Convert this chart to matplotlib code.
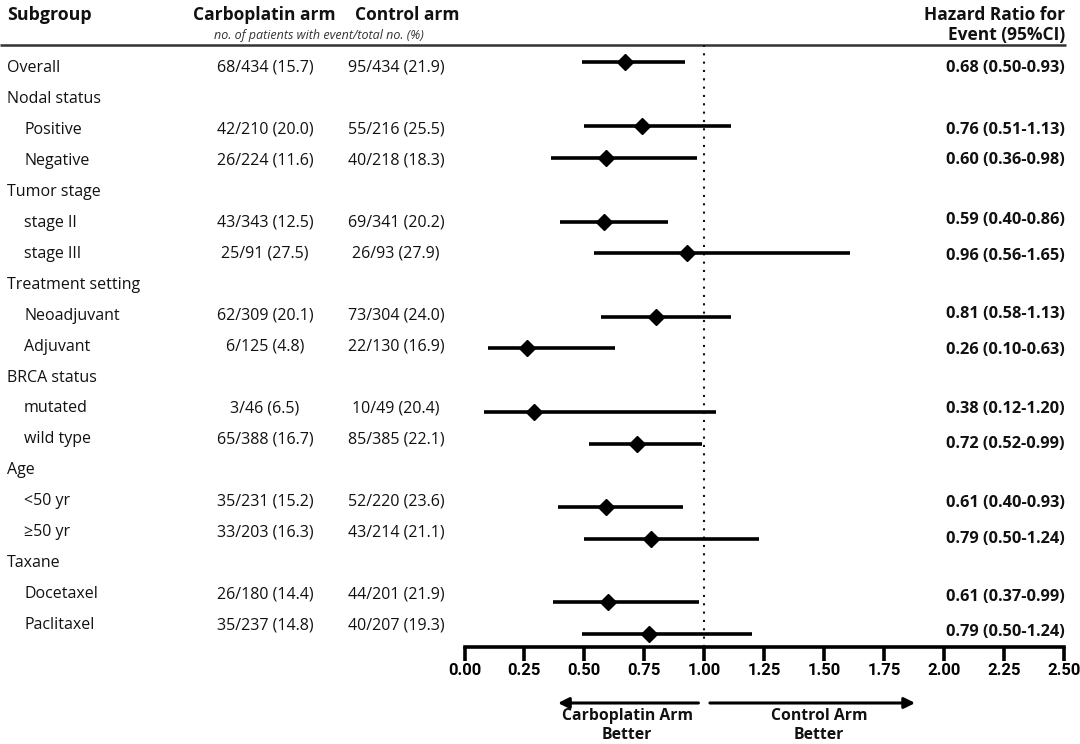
import matplotlib
matplotlib.use('Agg')
import matplotlib.pyplot as plt

plt.rcParams['font.family'] = ['Open Sans', 'DejaVu Sans']

# table data
subgroups = ["Overall", "Nodal status", "Positive", "Negative", "Tumor stage",
             "stage II", "stage III", "Treatment setting", "Neoadjuvant",
             "Adjuvant", "BRCA status", "mutated", "wild type", "Age",
             "<50 yr", "\u226550 yr", "Taxane", "Docetaxel", "Paclitaxel"]
indented = [0, 0, 1, 1, 0, 1, 1, 0, 1, 1, 0, 1, 1, 0, 1, 1, 0, 1, 1]
carbo_arm = ["68/434 (15.7)", "", "42/210 (20.0)", "26/224 (11.6)", "",
             "43/343 (12.5)", "25/91 (27.5)", "", "62/309 (20.1)", "6/125 (4.8)", "",
             "3/46 (6.5)", "65/388 (16.7)", "", "35/231 (15.2)", "33/203 (16.3)", "",
             "26/180 (14.4)", "35/237 (14.8)"]
control_arm = ["95/434 (21.9)", "", "55/216 (25.5)", "40/218 (18.3)", "",
               "69/341 (20.2)", "26/93 (27.9)", "", "73/304 (24.0)", "22/130 (16.9)", "",
               "10/49 (20.4)", "85/385 (22.1)", "", "52/220 (23.6)", "43/214 (21.1)", "",
               "44/201 (21.9)", "40/207 (19.3)"]

# hazard ratios as drawn (one per data row)
hr = [0.67, 0.74, 0.59, 0.58, 0.93, 0.80, 0.26, 0.29, 0.72, 0.59, 0.78, 0.60, 0.77]
ci_low = [0.49, 0.50, 0.36, 0.40, 0.54, 0.57, 0.10, 0.08, 0.52, 0.39, 0.50, 0.37, 0.49]
ci_high = [0.92, 1.11, 0.97, 0.85, 1.61, 1.11, 0.63, 1.05, 0.99, 0.91, 1.23, 0.98, 1.20]
hr_text = ["0.68 (0.50-0.93)", "0.76 (0.51-1.13)", "0.60 (0.36-0.98)",
           "0.59 (0.40-0.86)", "0.96 (0.56-1.65)", "0.81 (0.58-1.13)",
           "0.26 (0.10-0.63)", "0.38 (0.12-1.20)", "0.72 (0.52-0.99)",
           "0.61 (0.40-0.93)", "0.79 (0.50-1.24)", "0.61 (0.37-0.99)",
           "0.79 (0.50-1.24)"]
xticks = [0.0, 0.25, 0.5, 0.75, 1.0, 1.25, 1.5, 1.75, 2.0, 2.25, 2.5]

# layout (pixels from top)
W, H = 1080, 744
row_y = [68 + i * 30.95 for i in range(len(subgroups))]
mark_y = [62.3, 126.3, 157.7, 221.7, 253, 316.7, 348.3, 412, 443.7, 507, 539, 602.3, 634.3]
text_y = [68, 129.5, 160.5, 220.5, 256, 314.5, 350.5, 409, 444.5, 503, 539, 597, 632]
ax_left, ax_right, ax_top, ax_bottom = 464.5, 1063.7, 45, 646.7

ink = '#111111'
fig = plt.figure(figsize=(W / 100, H / 100), dpi=100)

# overlay for the table text, in pixel units
bg = fig.add_axes([0, 0, 1, 1])
bg.set_xlim(0, W)
bg.set_ylim(H, 0)
bg.axis('off')

bg.text(7, 15, "Subgroup", fontsize=12.8, fontweight='bold', color=ink, va='center', ha='left')
bg.text(264, 15, "Carboplatin arm", fontsize=12.5, fontweight='bold', color=ink, va='center', ha='center')
bg.text(407, 15, "Control arm", fontsize=12.5, fontweight='bold', color=ink, va='center', ha='center')
bg.text(319, 35, "no. of patients with event/total no. (%)", fontsize=9, style='italic',
        color='#333333', va='center', ha='center')
bg.text(1065, 15, "Hazard Ratio for", fontsize=12.5, fontweight='bold', color=ink, va='center', ha='right')
bg.text(1065, 35, "Event (95%CI)", fontsize=12.5, fontweight='bold', color=ink, va='center', ha='right')
bg.plot([0, 1066], [45, 45], color='#333333', lw=1.8, solid_capstyle='butt')

for i, name in enumerate(subgroups):
    y = row_y[i]
    bg.text(24 if indented[i] else 7, y, name, fontsize=11.5, color=ink, va='center', ha='left')
    if carbo_arm[i]:
        bg.text(265, y, carbo_arm[i], fontsize=11.5, color=ink, va='center', ha='center')
        bg.text(396, y, control_arm[i], fontsize=11.5, color=ink, va='center', ha='center')

for y, s in zip(text_y, hr_text):
    bg.text(1065, y, s, fontsize=11.8, fontweight='bold', color=ink, va='center', ha='right')

# forest plot axes
ax = fig.add_axes([ax_left / W, 1 - ax_bottom / H, (ax_right - ax_left) / W, (ax_bottom - ax_top) / H])
ax.patch.set_alpha(0)
ax.set_xlim(0, 2.5)
ax.set_ylim(ax_bottom, ax_top)
for side in ['top', 'right', 'left']:
    ax.spines[side].set_visible(False)
ax.spines['bottom'].set_linewidth(2.6)
ax.spines['bottom'].set_capstyle('projecting')
ax.set_yticks([])
ax.set_xticks(xticks)
ax.set_xticklabels([f"{t:.2f}" for t in xticks])
ax.tick_params(axis='x', direction='out', length=10, width=2.6, pad=2, labelsize=12)
for lab in ax.get_xticklabels():
    lab.set_fontweight('bold')
    lab.set_family('Roboto')

ax.axvline(1.0, color=ink, lw=1.5, linestyle=(0, (1, 3)), zorder=1)
ax.hlines(mark_y, ci_low, ci_high, color='black', lw=2.6, zorder=2)
ax.plot(hr, mark_y, linestyle='none', marker='D', markersize=8, color='black', zorder=3)

# direction arrows
trans = ax.get_xaxis_transform()
ya = -(703 - ax_bottom) / (ax_bottom - ax_top)
ax.annotate("", xy=(0.39, ya), xytext=(0.976, ya), xycoords=trans, textcoords=trans,
            arrowprops=dict(arrowstyle='-|>', lw=2.2, color='black', mutation_scale=16,
                            shrinkA=0, shrinkB=0), annotation_clip=False)
ax.annotate("", xy=(1.88, ya), xytext=(1.024, ya), xycoords=trans, textcoords=trans,
            arrowprops=dict(arrowstyle='-|>', lw=2.2, color='black', mutation_scale=16,
                            shrinkA=0, shrinkB=0), annotation_clip=False)

bg.text(627, 725.5, "Carboplatin Arm\nBetter", fontsize=11.3, fontweight='bold', color=ink,
        va='center', ha='center', linespacing=1.3)
bg.text(819, 725.5, "Control Arm\nBetter", fontsize=11.3, fontweight='bold', color=ink,
        va='center', ha='center', linespacing=1.3)

fig.savefig('out.png', dpi=100)
